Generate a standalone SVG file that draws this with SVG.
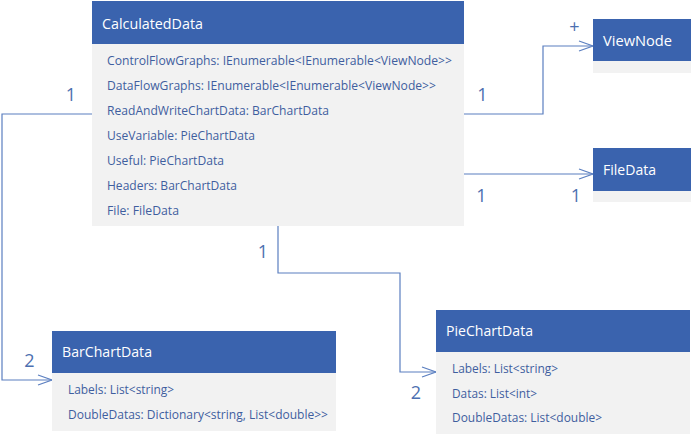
<svg xmlns="http://www.w3.org/2000/svg" width="692" height="436" viewBox="0 0 692 436">
<style>
  .hdr { fill: #3A63AE; }
  .body { fill: #F2F2F2; }
  .title { font-family: "Open Sans", "Noto Sans", sans-serif; font-size: 15px; fill: #FFFFFF; }
  .attr { font-family: "Open Sans", "Noto Sans", sans-serif; font-size: 12px; fill: #3F5E9F; }
  .mult { font-family: "Open Sans", "Noto Sans", sans-serif; font-size: 18px; fill: #4C6FB0; text-anchor: middle; }
  .conn { fill: none; stroke: #5B7FC0; stroke-width: 1.2; }
</style>
<defs>
  <marker id="open" markerUnits="userSpaceOnUse" markerWidth="16" markerHeight="12" refX="14" refY="6" orient="auto" overflow="visible">
    <path d="M0,1 L14,6 L0,11" fill="none" stroke="#5B7FC0" stroke-width="1.2"/>
  </marker>
</defs>
<rect width="692" height="436" fill="#FFFFFF"/>

<g id="connectors">
  <polyline class="conn" points="92,114 2,114 2,380 52,380" marker-end="url(#open)"/>
  <polyline class="conn" points="464,114 543,114 543,46 593,46" marker-end="url(#open)"/>
  <polyline class="conn" points="464,174 593,174" marker-end="url(#open)"/>
  <polyline class="conn" points="278,226 278,273 400,273 400,372 436,372" marker-end="url(#open)"/>
  <text class="mult" x="71" y="100.5">1</text>
  <text class="mult" x="29.5" y="367">2</text>
  <text class="mult" x="482.5" y="100.5">1</text>
  <text class="mult" x="574.5" y="32.5">+</text>
  <text class="mult" x="481.5" y="201.5">1</text>
  <text class="mult" x="576" y="201.5">1</text>
  <text class="mult" x="263" y="258">1</text>
  <text class="mult" x="416" y="399">2</text>
</g>

<g id="CalculatedData">
  <rect class="body" x="92" y="44" width="372" height="182"/>
  <rect class="hdr" x="92" y="1" width="372" height="43"/>
  <text class="title" x="102" y="28.5" textLength="101" lengthAdjust="spacingAndGlyphs">CalculatedData</text>
  <text class="attr" x="107" y="65" textLength="345" lengthAdjust="spacingAndGlyphs">ControlFlowGraphs: IEnumerable&lt;IEnumerable&lt;ViewNode&gt;&gt;</text>
  <text class="attr" x="107" y="90" textLength="329" lengthAdjust="spacingAndGlyphs">DataFlowGraphs: IEnumerable&lt;IEnumerable&lt;ViewNode&gt;&gt;</text>
  <text class="attr" x="107" y="115" textLength="222" lengthAdjust="spacingAndGlyphs">ReadAndWriteChartData: BarChartData</text>
  <text class="attr" x="107" y="140" textLength="148" lengthAdjust="spacingAndGlyphs">UseVariable: PieChartData</text>
  <text class="attr" x="107" y="165" textLength="117" lengthAdjust="spacingAndGlyphs">Useful: PieChartData</text>
  <text class="attr" x="107" y="190" textLength="130" lengthAdjust="spacingAndGlyphs">Headers: BarChartData</text>
  <text class="attr" x="107" y="215" textLength="72" lengthAdjust="spacingAndGlyphs">File: FileData</text>
</g>

<g id="ViewNode">
  <rect class="body" x="593" y="61" width="98" height="12"/>
  <rect class="hdr" x="593" y="19" width="98" height="42"/>
  <text class="title" x="603" y="45.5" textLength="69" lengthAdjust="spacingAndGlyphs">ViewNode</text>
</g>

<g id="FileData">
  <rect class="body" x="593" y="191" width="98" height="11"/>
  <rect class="hdr" x="593" y="148" width="98" height="43"/>
  <text class="title" x="603" y="175" textLength="53" lengthAdjust="spacingAndGlyphs">FileData</text>
</g>

<g id="BarChartData">
  <rect class="body" x="52" y="373" width="284" height="58"/>
  <rect class="hdr" x="52" y="331" width="284" height="42"/>
  <text class="title" x="62" y="357" textLength="90" lengthAdjust="spacingAndGlyphs">BarChartData</text>
  <text class="attr" x="68" y="394" textLength="106" lengthAdjust="spacingAndGlyphs">Labels: List&lt;string&gt;</text>
  <text class="attr" x="68" y="419" textLength="260" lengthAdjust="spacingAndGlyphs">DoubleDatas: Dictionary&lt;string, List&lt;double&gt;&gt;</text>
</g>

<g id="PieChartData">
  <rect class="body" x="436" y="352" width="254" height="82"/>
  <rect class="hdr" x="436" y="310" width="254" height="42"/>
  <text class="title" x="446" y="336" textLength="87" lengthAdjust="spacingAndGlyphs">PieChartData</text>
  <text class="attr" x="452" y="373" textLength="106" lengthAdjust="spacingAndGlyphs">Labels: List&lt;string&gt;</text>
  <text class="attr" x="452" y="397.5" textLength="85" lengthAdjust="spacingAndGlyphs">Datas: List&lt;int&gt;</text>
  <text class="attr" x="452" y="422" textLength="150" lengthAdjust="spacingAndGlyphs">DoubleDatas: List&lt;double&gt;</text>
</g>
</svg>
